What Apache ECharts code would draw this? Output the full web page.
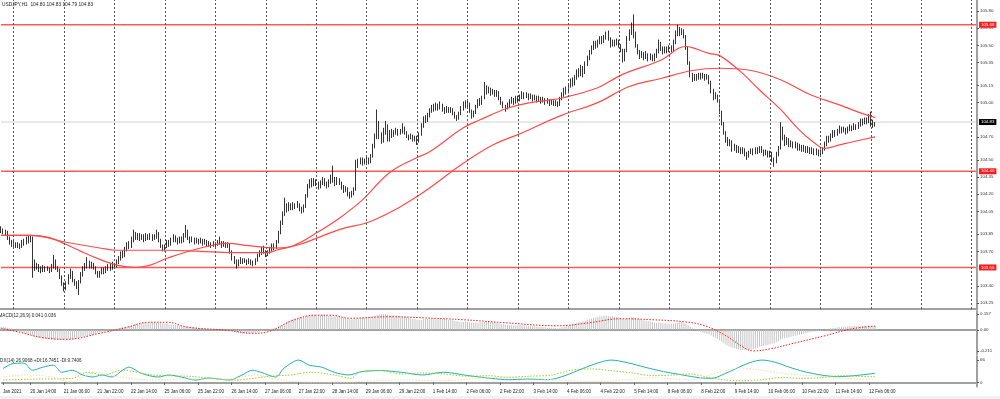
<!DOCTYPE html>
<html>
<head>
<meta charset="utf-8">
<title>USDJPY,H1</title>
<script src="https://cdn.jsdelivr.net/npm/echarts@6/dist/echarts.min.js"></script>
<style>
html, body { margin: 0; padding: 0; background: #fff; }
#chart { width: 1000px; height: 399px; }
</style>
</head>
<body>
<div id="chart"></div>
<script>
"use strict";

// H1 candles per trading day, each bar [open, close, low, high]
var jan20 = [[103.90,103.88,103.86,103.92],[103.88,103.86,103.85,103.90],[103.86,103.87,103.84,103.89],[103.87,103.82,103.80,103.88],[103.82,103.78,103.76,103.83],[103.78,103.76,103.74,103.80],[103.76,103.77,103.74,103.79],[103.77,103.75,103.73,103.78],[103.75,103.76,103.73,103.78],[103.76,103.74,103.72,103.77],[103.74,103.78,103.73,103.80],[103.78,103.77,103.75,103.81],[103.77,103.81,103.76,103.83],[103.81,103.79,103.77,103.84],[103.79,103.82,103.78,103.84],[103.82,103.60,103.47,103.83],[103.60,103.56,103.53,103.63],[103.56,103.58,103.54,103.60],[103.58,103.55,103.52,103.59],[103.55,103.53,103.51,103.57],[103.53,103.56,103.52,103.58],[103.56,103.54,103.52,103.57],[103.54,103.55,103.53,103.57]];
var jan21 = [[103.55,103.53,103.51,103.56],[103.53,103.57,103.52,103.59],[103.57,103.62,103.55,103.67],[103.62,103.56,103.54,103.63],[103.56,103.54,103.52,103.57],[103.54,103.48,103.46,103.55],[103.48,103.42,103.40,103.49],[103.42,103.38,103.35,103.43],[103.38,103.42,103.36,103.44],[103.42,103.48,103.41,103.50],[103.48,103.52,103.46,103.55],[103.52,103.45,103.43,103.53],[103.45,103.42,103.40,103.46],[103.42,103.39,103.37,103.44],[103.39,103.43,103.32,103.45],[103.43,103.50,103.42,103.52],[103.50,103.55,103.48,103.57],[103.55,103.58,103.53,103.60],[103.58,103.60,103.55,103.65],[103.60,103.57,103.55,103.62],[103.57,103.59,103.55,103.61],[103.59,103.56,103.54,103.60],[103.56,103.52,103.50,103.57],[103.52,103.49,103.47,103.53]];
var jan22 = [[103.49,103.51,103.47,103.53],[103.51,103.54,103.50,103.56],[103.54,103.52,103.50,103.56],[103.52,103.55,103.51,103.57],[103.55,103.57,103.53,103.59],[103.57,103.55,103.53,103.60],[103.55,103.58,103.54,103.61],[103.58,103.57,103.55,103.60],[103.57,103.61,103.56,103.63],[103.61,103.64,103.59,103.66],[103.64,103.68,103.62,103.70],[103.68,103.66,103.64,103.71],[103.66,103.72,103.65,103.74],[103.72,103.76,103.70,103.78],[103.76,103.74,103.72,103.79],[103.74,103.80,103.73,103.83],[103.80,103.85,103.78,103.89],[103.85,103.82,103.80,103.87],[103.82,103.84,103.80,103.86],[103.84,103.81,103.79,103.86],[103.81,103.83,103.80,103.85],[103.83,103.80,103.78,103.85],[103.80,103.84,103.79,103.86],[103.84,103.82,103.80,103.85]];
var jan25 = [[103.82,103.84,103.80,103.86],[103.84,103.81,103.79,103.85],[103.81,103.83,103.80,103.85],[103.83,103.86,103.81,103.89],[103.86,103.80,103.78,103.87],[103.80,103.75,103.73,103.81],[103.75,103.72,103.70,103.76],[103.72,103.74,103.70,103.76],[103.74,103.78,103.73,103.80],[103.78,103.76,103.74,103.80],[103.76,103.80,103.75,103.82],[103.80,103.83,103.78,103.85],[103.83,103.80,103.78,103.84],[103.80,103.78,103.76,103.82],[103.78,103.81,103.77,103.83],[103.81,103.79,103.77,103.83],[103.79,103.84,103.78,103.86],[103.84,103.88,103.82,103.93],[103.88,103.82,103.80,103.89],[103.82,103.79,103.77,103.83],[103.79,103.81,103.78,103.83],[103.81,103.78,103.76,103.82],[103.78,103.80,103.77,103.82],[103.80,103.78,103.76,103.81]];
var jan26 = [[103.78,103.80,103.77,103.82],[103.80,103.77,103.75,103.81],[103.77,103.79,103.76,103.81],[103.79,103.76,103.74,103.80],[103.76,103.77,103.74,103.79],[103.77,103.75,103.73,103.78],[103.75,103.77,103.74,103.79],[103.77,103.76,103.74,103.78],[103.76,103.79,103.75,103.80],[103.79,103.78,103.76,103.83],[103.78,103.75,103.73,103.79],[103.75,103.77,103.74,103.79],[103.77,103.75,103.73,103.78],[103.75,103.76,103.73,103.78],[103.76,103.70,103.68,103.77],[103.70,103.64,103.62,103.71],[103.64,103.61,103.59,103.66],[103.61,103.58,103.55,103.63],[103.58,103.61,103.57,103.63],[103.61,103.63,103.59,103.65],[103.63,103.61,103.59,103.64],[103.61,103.62,103.60,103.64],[103.62,103.60,103.58,103.63],[103.60,103.62,103.59,103.64]];
var jan27 = [[103.62,103.60,103.58,103.63],[103.60,103.59,103.57,103.62],[103.59,103.62,103.58,103.64],[103.62,103.66,103.61,103.68],[103.66,103.69,103.65,103.71],[103.69,103.72,103.67,103.74],[103.72,103.70,103.68,103.75],[103.70,103.67,103.65,103.71],[103.67,103.69,103.66,103.71],[103.69,103.72,103.68,103.74],[103.72,103.75,103.70,103.77],[103.75,103.73,103.71,103.77],[103.73,103.78,103.72,103.80],[103.78,103.86,103.77,103.88],[103.86,103.95,103.85,103.97],[103.95,104.03,103.93,104.05],[104.03,104.10,104.01,104.17],[104.10,104.07,104.04,104.12],[104.07,104.10,104.05,104.13],[104.10,104.08,104.06,104.12],[104.08,104.11,104.06,104.13],[104.11,104.09,104.07,104.12],[104.09,104.11,104.08,104.14],[104.11,104.07,104.05,104.12]];
var jan28 = [[104.07,104.05,104.03,104.09],[104.05,104.09,104.04,104.11],[104.09,104.18,104.08,104.20],[104.18,104.27,104.17,104.29],[104.27,104.31,104.25,104.33],[104.31,104.28,104.26,104.34],[104.28,104.32,104.27,104.34],[104.32,104.29,104.27,104.33],[104.29,104.26,104.24,104.31],[104.26,104.30,104.25,104.32],[104.30,104.33,104.28,104.35],[104.33,104.29,104.27,104.34],[104.29,104.27,104.25,104.31],[104.27,104.31,104.26,104.33],[104.31,104.34,104.29,104.37],[104.34,104.32,104.30,104.45],[104.32,104.29,104.27,104.35],[104.29,104.33,104.28,104.35],[104.33,104.30,104.28,104.34],[104.30,104.26,104.24,104.31],[104.26,104.23,104.21,104.28],[104.23,104.25,104.22,104.27],[104.25,104.20,104.18,104.26],[104.20,104.18,104.16,104.22]];
var jan29 = [[104.18,104.21,104.17,104.23],[104.21,104.24,104.19,104.26],[104.24,104.45,104.23,104.50],[104.45,104.48,104.43,104.51],[104.48,104.50,104.46,104.52],[104.50,104.47,104.45,104.52],[104.47,104.49,104.46,104.51],[104.49,104.51,104.47,104.53],[104.51,104.48,104.46,104.52],[104.48,104.53,104.47,104.55],[104.53,104.62,104.52,104.64],[104.62,104.70,104.60,104.73],[104.70,104.82,104.68,104.94],[104.82,104.72,104.68,104.84],[104.72,104.66,104.64,104.74],[104.66,104.74,104.65,104.78],[104.74,104.80,104.72,104.84],[104.80,104.70,104.66,104.81],[104.70,104.74,104.66,104.76],[104.74,104.71,104.69,104.77],[104.71,104.74,104.70,104.76],[104.74,104.76,104.72,104.78],[104.76,104.73,104.71,104.77],[104.73,104.75,104.72,104.77]];
var feb01 = [[104.75,104.78,104.73,104.82],[104.78,104.74,104.72,104.79],[104.74,104.71,104.69,104.75],[104.71,104.69,104.67,104.72],[104.69,104.71,104.68,104.73],[104.71,104.68,104.66,104.72],[104.68,104.70,104.66,104.71],[104.70,104.66,104.63,104.71],[104.66,104.72,104.65,104.74],[104.72,104.80,104.71,104.82],[104.80,104.86,104.78,104.88],[104.86,104.84,104.82,104.89],[104.84,104.89,104.83,104.91],[104.89,104.93,104.87,104.95],[104.93,104.96,104.91,104.98],[104.96,104.94,104.92,104.99],[104.94,104.97,104.93,105.00],[104.97,104.95,104.93,104.99],[104.95,104.98,104.94,105.01],[104.98,104.94,104.92,104.99],[104.94,104.92,104.90,104.96],[104.92,104.95,104.91,104.97],[104.95,104.93,104.91,104.96],[104.93,104.94,104.91,104.96]];
var feb02 = [[104.94,104.91,104.89,104.95],[104.91,104.88,104.86,104.92],[104.88,104.86,104.84,104.89],[104.86,104.90,104.85,104.92],[104.90,104.95,104.89,104.97],[104.95,104.99,104.93,105.01],[104.99,104.97,104.95,105.02],[104.97,104.99,104.96,105.02],[104.99,104.93,104.91,105.00],[104.93,104.88,104.86,104.94],[104.88,104.91,104.87,104.93],[104.91,104.96,104.90,104.98],[104.96,105.01,104.95,105.03],[105.01,104.99,104.97,105.04],[104.99,105.04,104.98,105.06],[105.04,105.12,105.03,105.18],[105.12,105.10,105.07,105.15],[105.10,105.12,105.08,105.14],[105.12,105.08,105.06,105.13],[105.08,105.10,105.07,105.12],[105.10,105.07,105.05,105.11],[105.07,105.09,105.05,105.11],[105.09,105.04,105.02,105.10],[105.04,105.00,104.98,105.05]];
var feb03 = [[105.00,104.97,104.95,105.01],[104.97,104.95,104.92,104.98],[104.95,104.98,104.94,105.00],[104.98,105.01,104.96,105.03],[105.01,105.03,104.99,105.05],[105.03,105.00,104.98,105.04],[105.00,105.04,104.99,105.06],[105.04,105.02,105.00,105.06],[105.02,105.05,105.01,105.07],[105.05,105.08,105.03,105.10],[105.08,105.05,105.03,105.09],[105.05,105.07,105.04,105.09],[105.07,105.04,105.02,105.08],[105.04,105.06,105.03,105.08],[105.06,105.03,105.01,105.07],[105.03,105.05,105.02,105.07],[105.05,105.02,105.00,105.06],[105.02,105.04,105.01,105.06],[105.04,105.01,104.99,105.05],[105.01,105.03,105.00,105.05],[105.03,105.00,104.98,105.04],[105.00,105.02,104.99,105.04],[105.02,104.99,104.97,105.03],[104.99,105.01,104.98,105.03]];
var feb04 = [[105.01,104.99,104.97,105.02],[104.99,105.00,104.97,105.02],[105.00,104.98,104.96,105.01],[104.98,105.03,104.97,105.05],[105.03,105.07,105.02,105.09],[105.07,105.11,105.05,105.13],[105.11,105.09,105.07,105.14],[105.09,105.15,105.08,105.17],[105.15,105.19,105.13,105.21],[105.19,105.16,105.14,105.22],[105.16,105.22,105.15,105.24],[105.22,105.27,105.20,105.29],[105.27,105.24,105.22,105.30],[105.24,105.30,105.23,105.33],[105.30,105.26,105.22,105.32],[105.26,105.34,105.25,105.36],[105.34,105.39,105.32,105.41],[105.39,105.44,105.37,105.46],[105.44,105.48,105.42,105.50],[105.48,105.52,105.46,105.54],[105.52,105.49,105.47,105.54],[105.49,105.53,105.48,105.55],[105.53,105.56,105.51,105.58],[105.56,105.53,105.51,105.58]];
var feb05 = [[105.53,105.57,105.52,105.59],[105.57,105.60,105.55,105.62],[105.60,105.56,105.54,105.63],[105.56,105.50,105.48,105.57],[105.50,105.53,105.49,105.55],[105.53,105.51,105.49,105.55],[105.51,105.54,105.50,105.56],[105.54,105.50,105.48,105.55],[105.50,105.46,105.44,105.51],[105.46,105.38,105.35,105.47],[105.38,105.45,105.36,105.47],[105.45,105.56,105.44,105.58],[105.56,105.62,105.54,105.64],[105.62,105.66,105.59,105.70],[105.66,105.60,105.56,105.77],[105.60,105.50,105.48,105.62],[105.50,105.44,105.42,105.51],[105.44,105.41,105.38,105.46],[105.41,105.43,105.39,105.45],[105.43,105.40,105.37,105.44],[105.40,105.42,105.38,105.45],[105.42,105.39,105.36,105.43],[105.39,105.41,105.37,105.43],[105.41,105.38,105.36,105.42]];
var feb08 = [[105.38,105.41,105.36,105.43],[105.41,105.44,105.39,105.47],[105.44,105.50,105.43,105.55],[105.50,105.47,105.45,105.53],[105.47,105.44,105.42,105.49],[105.44,105.47,105.43,105.49],[105.47,105.45,105.43,105.49],[105.45,105.48,105.44,105.50],[105.48,105.46,105.44,105.50],[105.46,105.52,105.45,105.55],[105.52,105.60,105.51,105.63],[105.60,105.64,105.58,105.68],[105.64,105.61,105.58,105.66],[105.61,105.63,105.59,105.65],[105.63,105.58,105.56,105.64],[105.58,105.48,105.46,105.59],[105.48,105.35,105.33,105.49],[105.35,105.24,105.22,105.36],[105.24,105.21,105.18,105.26],[105.21,105.23,105.19,105.25],[105.23,105.21,105.19,105.25],[105.21,105.24,105.20,105.26],[105.24,105.22,105.20,105.26],[105.22,105.24,105.21,105.26]];
var feb09 = [[105.24,105.21,105.19,105.25],[105.21,105.23,105.20,105.25],[105.23,105.18,105.16,105.24],[105.18,105.10,105.08,105.19],[105.10,105.05,105.02,105.12],[105.05,105.06,105.03,105.09],[105.06,105.02,105.00,105.07],[105.02,104.92,104.90,105.03],[104.92,104.82,104.80,104.93],[104.82,104.74,104.72,104.83],[104.74,104.68,104.65,104.75],[104.68,104.64,104.62,104.70],[104.64,104.66,104.62,104.68],[104.66,104.60,104.57,104.67],[104.60,104.62,104.58,104.64],[104.62,104.58,104.56,104.63],[104.58,104.60,104.56,104.62],[104.60,104.57,104.55,104.61],[104.57,104.59,104.55,104.61],[104.59,104.56,104.53,104.60],[104.56,104.53,104.50,104.57],[104.53,104.56,104.52,104.58],[104.56,104.58,104.55,104.60],[104.58,104.56,104.54,104.60]];
var feb10 = [[104.56,104.59,104.55,104.61],[104.59,104.57,104.55,104.61],[104.57,104.60,104.56,104.62],[104.60,104.58,104.56,104.62],[104.58,104.55,104.53,104.59],[104.55,104.57,104.54,104.59],[104.57,104.54,104.52,104.58],[104.54,104.56,104.52,104.58],[104.56,104.50,104.48,104.57],[104.50,104.48,104.44,104.52],[104.48,104.55,104.47,104.57],[104.55,104.60,104.53,104.62],[104.60,104.76,104.59,104.83],[104.76,104.70,104.67,104.79],[104.70,104.65,104.62,104.72],[104.65,104.68,104.63,104.70],[104.68,104.63,104.61,104.69],[104.63,104.65,104.61,104.67],[104.65,104.62,104.60,104.66],[104.62,104.64,104.60,104.66],[104.64,104.60,104.58,104.65],[104.60,104.62,104.58,104.64],[104.62,104.59,104.57,104.63],[104.59,104.61,104.57,104.63]];
var feb11 = [[104.61,104.58,104.56,104.62],[104.58,104.60,104.56,104.62],[104.60,104.57,104.55,104.61],[104.57,104.59,104.55,104.61],[104.59,104.56,104.54,104.60],[104.56,104.58,104.54,104.60],[104.58,104.55,104.53,104.59],[104.55,104.57,104.54,104.59],[104.57,104.59,104.55,104.61],[104.59,104.64,104.58,104.66],[104.64,104.69,104.62,104.71],[104.69,104.67,104.65,104.71],[104.67,104.71,104.66,104.73],[104.71,104.74,104.69,104.76],[104.74,104.72,104.70,104.76],[104.72,104.75,104.71,104.77],[104.75,104.78,104.73,104.80],[104.78,104.75,104.73,104.79],[104.75,104.77,104.74,104.79],[104.77,104.74,104.72,104.78],[104.74,104.77,104.73,104.79],[104.77,104.79,104.75,104.81],[104.79,104.77,104.75,104.80],[104.77,104.80,104.76,104.82]];
var feb12 = [[104.80,104.78,104.76,104.81],[104.78,104.81,104.77,104.83],[104.81,104.84,104.79,104.86],[104.84,104.82,104.80,104.86],[104.82,104.85,104.81,104.87],[104.85,104.83,104.81,104.87],[104.83,104.88,104.82,104.90],[104.88,104.84,104.79,104.92],[104.84,104.80,104.78,104.85],[104.80,104.83,104.79,104.83]];

var dayNames = ['20 Jan', '21 Jan', '22 Jan', '25 Jan', '26 Jan', '27 Jan', '28 Jan', '29 Jan', '1 Feb', '2 Feb',
    '3 Feb', '4 Feb', '5 Feb', '8 Feb', '9 Feb', '10 Feb', '11 Feb', '12 Feb'];
var dayBars = [jan20, jan21, jan22, jan25, jan26, jan27, jan28, jan29, feb01, feb02,
    feb03, feb04, feb05, feb08, feb09, feb10, feb11, feb12];
var firstHour = 1;      // first visible bar is 20 Jan 01:00
var emptyBars = 48;     // chart shift on the right

// moving averages, read as [bar index, price]
var maFast = [[0,103.84],[14,103.84],[23,103.82],[31,103.76],[38,103.70],[47,103.63],[55,103.58],[64,103.56],[71,103.58],[79,103.64],[95,103.73],[108,103.77],[118,103.75],[131,103.73],[139,103.75],[150,103.86],[161,103.99],[172,104.15],[185,104.39],[198,104.52],[204,104.57],[220,104.78],[228,104.85],[241,104.95],[252,105.00],[260,105.02],[267,105.04],[284,105.13],[293,105.22],[299,105.27],[314,105.37],[326,105.49],[329,105.48],[337,105.43],[342,105.41],[352,105.27],[361,105.11],[371,104.94],[380,104.76],[387,104.65],[392,104.60],[399,104.63],[406,104.66],[416,104.70]];
var maSlow = [[0,103.84],[14,103.84],[31,103.78],[47,103.73],[55,103.71],[79,103.71],[95,103.70],[110,103.69],[127,103.69],[131,103.71],[142,103.76],[161,103.89],[177,103.97],[198,104.18],[220,104.47],[234,104.63],[246,104.72],[267,104.89],[284,105.00],[299,105.14],[314,105.21],[329,105.28],[342,105.30],[357,105.28],[371,105.20],[385,105.07],[399,104.98],[409,104.91],[416,104.87]];

// MACD(12,26,9): histogram per bar and signal as [bar index, value]
var macdHist = [0.03,0.03,0.025,0.02,0.015,0.01,0.0,-0.005,-0.01,-0.02,
    -0.03,-0.035,-0.04,-0.045,-0.05,-0.06,-0.07,-0.075,-0.08,-0.085,
    -0.09,-0.09,-0.095,-0.095,-0.1,-0.1,-0.1,-0.1,-0.1,-0.1,-0.1,-0.1,-0.1,-0.095,-0.095,-0.09,
    -0.085,-0.08,-0.075,-0.07,-0.065,-0.06,-0.055,-0.05,-0.045,-0.04,
    -0.035,-0.03,-0.025,-0.02,-0.015,-0.01,-0.005,0,0.005,0.01,0.015,0.02,
    0.025,0.03,0.035,0.04,0.045,0.05,0.055,0.06,0.065,
    0.065,0.07,0.07,0.075,0.075,0.075,0.07,0.07,0.07,0.065,0.065,0.06,0.06,0.055,
    0.05,0.05,0.045,0.045,0.04,0.04,0.04,0.04,0.035,0.03,
    0.03,0.025,0.025,0.02,0.02,0.015,0.015,0.01,0.01,0.005,0.005,0,0,0,0,-0.005,-0.005,-0.01,
    -0.015,-0.02,-0.025,-0.03,-0.035,-0.035,-0.04,-0.04,-0.04,-0.04,-0.035,-0.035,-0.03,-0.025,-0.02,
    -0.015,-0.01,-0.005,0,0.005,0.01,0.015,0.02,0.03,0.04,
    0.05,0.065,0.08,0.09,0.1,0.11,0.115,0.12,0.125,
    0.13,0.13,0.135,0.14,0.145,0.15,0.15,0.15,0.15,0.15,0.15,0.145,0.145,0.14,0.14,
    0.135,0.135,0.13,0.13,0.125,0.12,0.115,0.11,0.105,
    0.105,0.105,0.11,0.115,0.12,0.125,0.125,0.13,0.13,0.13,0.135,0.14,0.15,0.155,0.155,0.155,0.155,0.15,0.15,0.145,0.145,0.14,0.14,0.135,
    0.13,0.13,0.125,0.12,0.115,0.11,0.105,0.1,0.1,0.1,0.105,0.11,0.11,0.115,0.115,0.115,0.115,0.115,0.115,0.11,0.11,0.105,0.1,0.1,
    0.095,0.09,0.085,0.08,0.08,0.08,0.08,0.08,0.075,0.07,0.07,0.07,0.07,0.075,0.075,0.08,0.08,0.08,0.08,0.075,0.075,0.07,0.065,0.06,
    0.055,0.05,0.05,0.045,0.045,0.045,0.045,0.045,0.045,0.045,0.045,0.04,0.04,0.04,0.035,0.035,0.03,0.03,0.03,0.025,0.025,0.02,0.02,0.02,
    0.02,0.02,0.015,0.02,0.025,0.03,0.035,0.04,0.05,0.055,0.06,0.07,0.075,0.08,0.085,0.09,0.1,0.105,0.11,0.12,0.125,0.13,0.135,0.135,
    0.14,0.14,0.14,0.135,0.135,0.13,0.13,0.125,0.12,0.11,0.11,0.115,0.12,0.125,0.125,0.12,0.11,0.105,0.1,0.095,0.09,0.085,0.08,0.075,
    0.07,0.07,0.07,0.07,0.065,0.065,0.06,0.06,0.06,0.06,0.065,0.07,0.075,0.075,0.07,0.06,0.045,0.03,0.015,0.005,-0.005,-0.015,-0.02,-0.03,
    -0.035,-0.04,-0.045,-0.055,-0.07,-0.08,-0.09,-0.105,-0.12,-0.135,-0.15,-0.16,-0.17,-0.18,-0.185,-0.19,-0.195,-0.2,-0.2,-0.2,-0.2,-0.2,-0.195,-0.19,
    -0.185,-0.18,-0.17,-0.165,-0.16,-0.155,-0.15,-0.145,-0.14,-0.135,-0.125,-0.115,-0.1,-0.09,-0.085,-0.08,-0.075,-0.07,-0.065,-0.06,-0.055,-0.05,-0.045,-0.04,
    -0.035,-0.03,-0.025,-0.02,-0.02,-0.015,-0.01,-0.01,-0.005,0,0.005,0.01,0.015,0.02,0.02,0.025,0.025,0.03,0.03,0.03,0.035,0.035,0.035,0.035,
    0.035,0.035,0.035,0.04,0.04,0.04,0.04,0.04,0.041,0.041];
var macdSignal = [[0,0.015],[9,-0.025],[19,-0.075],[31,-0.095],[47,-0.035],[60,0.025],[70,0.075],[79,0.075],[89,0.025],[108,-0.005],[120,-0.035],[127,-0.02],[139,0.095],[150,0.145],[157,0.145],[166,0.115],[185,0.13],[200,0.12],[220,0.1],[240,0.07],[265,0.04],[280,0.07],[295,0.11],[310,0.1],[325,0.08],[335,0.04],[345,-0.06],[353,-0.17],[358,-0.21],[366,-0.19],[378,-0.13],[392,-0.06],[405,0.01],[416,0.036]];

// ADX(14) lines as [bar index, value]
var adxLine = [[0,41],[5,56],[10,57],[14,36],[19,45],[24,51],[28,30],[33,36],[38,22],[43,16],[47,22],[52,16],[57,36],[60,45],[66,27],[74,16],[79,22],[85,16],[92,7],[98,13],[108,7],[114,22],[119,36],[123,30],[130,16],[134,42],[141,66],[146,51],[152,45],[158,30],[165,22],[171,32],[180,35],[190,30],[200,22],[210,30],[222,20],[233,12],[241,8],[250,10],[260,8],[268,20],[276,40],[284,58],[290,66],[298,58],[306,45],[315,32],[324,22],[332,14],[338,12],[344,25],[350,42],[356,58],[362,66],[368,60],[375,45],[382,32],[390,22],[398,17],[406,20],[416,27]];
var plusDi = [[0,7],[16,10],[33,12],[40,30],[48,22],[57,36],[71,22],[89,18],[111,7],[127,18],[137,22],[147,30],[158,22],[166,12],[170,30],[180,35],[190,25],[200,28],[210,25],[222,18],[232,20],[240,15],[250,18],[262,22],[270,35],[280,40],[290,35],[300,28],[310,20],[320,22],[328,25],[336,15],[344,8],[352,5],[362,8],[372,15],[380,12],[390,14],[400,20],[408,18],[416,16.7]];
var minusDi = [[0,16],[10,22],[24,16],[32,1],[44,30],[55,16],[71,7],[87,10],[108,10],[120,22],[134,5],[150,1],[166,1],[170,3],[180,5],[190,8],[200,6],[210,5],[222,10],[232,14],[240,16],[250,12],[262,8],[270,5],[280,3],[290,4],[300,10],[310,14],[320,10],[328,8],[336,20],[344,35],[352,42],[360,38],[370,28],[380,22],[390,18],[400,12],[408,10],[416,9.7]];

var levels = [105.68, 104.40, 103.56];
var lastPrice = 104.83;
var priceTicks = [105.80, 105.65, 105.50, 105.35, 105.15, 105.00, 104.70, 104.50, 104.35, 104.20, 104.05, 103.85, 103.70, 103.40, 103.25];
var macdTicks = [0.157, 0, -0.211];
var adxTicks = [66, 0];

// categories: one per hourly bar plus the empty shift
var categories = [];
var candles = [];
dayNames.forEach(function (name, d) {
    dayBars[d].forEach(function (bar, k) {
        var h = (d === 0 ? firstHour : 0) + k;
        categories.push(name + ' ' + (h < 10 ? '0' + h : h) + ':00');
        candles.push(bar);
    });
});
var barCount = candles.length;
for (var e = 0; e < emptyBars; e++) categories.push('');
var lastSlot = categories.length - 1;

function showTime(i) {
    return i === 0 || (i >= 13 && i < barCount && (i - 13) % 16 === 0);
}

var font = 'Liberation Sans, Arial, sans-serif';
var frame = '#a0a0a0';

// vertical dotted grid every 24 bars
var gridLines = [];
for (var g = 6; g < categories.length; g += 24) gridLines.push({ xAxis: g });

// horizontal price lines drawn across the whole panel, with a tag on the price scale
function priceLine(name, v, lineColor, lineWidth, tagColor) {
    return {
        name: name, type: 'line', xAxisIndex: 0, yAxisIndex: 0,
        data: [[0, v], [lastSlot, v]],
        showSymbol: false, silent: true, z: 1,
        lineStyle: { color: lineColor, width: lineWidth },
        endLabel: {
            show: true, distance: 3, color: '#fff', backgroundColor: tagColor,
            fontSize: 4.4, padding: [1, 2], fontFamily: font,
            formatter: function () { return v.toFixed(2); }
        }
    };
}

var chart = echarts.init(document.getElementById('chart'));

var series = [
    priceLine('last', lastPrice, '#d2d2d2', 1, '#000')
].concat(levels.map(function (v, i) {
    return priceLine('level' + i, v, '#ff5a5a', 1.6, '#ff1a1a');
})).concat([
    {
        name: 'USDJPY', type: 'candlestick', xAxisIndex: 0, yAxisIndex: 0,
        data: candles,
        barWidth: 1.3,
        itemStyle: { color: '#ffffff', color0: '#000000', borderColor: '#000', borderColor0: '#000', borderWidth: 0.8 },
        z: 3
    },
    {
        name: 'MA fast', type: 'line', xAxisIndex: 0, yAxisIndex: 0,
        data: maFast, smooth: 0.4, showSymbol: false,
        lineStyle: { color: '#ff4a4a', width: 1.2 },
        markLine: {
            silent: true,
            symbol: ['none', 'none'],
            lineStyle: { color: '#555', type: [2, 2], width: 1 },
            label: { show: false },
            data: gridLines
        },
        z: 4
    },
    {
        name: 'MA slow', type: 'line', xAxisIndex: 0, yAxisIndex: 0,
        data: maSlow, smooth: 0.4, showSymbol: false,
        lineStyle: { color: '#ff4a4a', width: 1.2 },
        z: 4
    },
    {
        name: 'MACD', type: 'bar', xAxisIndex: 1, yAxisIndex: 1,
        data: macdHist, barWidth: 1,
        itemStyle: { color: '#c4c4c4' }
    },
    {
        name: 'Signal', type: 'line', xAxisIndex: 1, yAxisIndex: 1,
        data: macdSignal, smooth: 0.4, showSymbol: false,
        lineStyle: { color: '#ff2020', width: 1, type: [1.5, 1.5] }
    },
    {
        name: 'ADX', type: 'line', xAxisIndex: 2, yAxisIndex: 2,
        data: adxLine, smooth: 0.3, showSymbol: false,
        lineStyle: { color: '#20b2aa', width: 1 }
    },
    {
        name: '+DI', type: 'line', xAxisIndex: 2, yAxisIndex: 2,
        data: plusDi, smooth: 0.3, showSymbol: false,
        lineStyle: { color: '#9acd32', width: 1, type: [1.5, 1.5] }
    },
    {
        name: '-DI', type: 'line', xAxisIndex: 2, yAxisIndex: 2,
        data: minusDi, smooth: 0.3, showSymbol: false,
        lineStyle: { color: '#f5deb3', width: 1, type: [1.5, 1.5] }
    }
]);

chart.setOption({
    animation: false,
    backgroundColor: '#fff',
    textStyle: { fontFamily: font },
    grid: [
        { left: 0, top: 0, width: 977, height: 309 },
        { left: 0, top: 311, width: 977, height: 43 },
        { left: 0, top: 356, width: 977, height: 30.5 }
    ],
    xAxis: [0, 1, 2].map(function (i) {
        return {
            type: 'category',
            gridIndex: i,
            data: categories,
            boundaryGap: true,
            axisLine: { show: true, lineStyle: { color: frame, width: 2 } },
            axisTick: {
                show: i === 2,
                alignWithLabel: true,
                interval: function (idx) { return showTime(idx); },
                length: 2.5,
                lineStyle: { color: '#666' }
            },
            axisLabel: {
                show: i === 2,
                interval: function (idx) { return showTime(idx); },
                formatter: function (v, idx) { return idx === 0 ? 'Jan 2021' : v; },
                align: 'left',
                margin: 2.5,
                fontSize: 4.5,
                color: '#222',
                hideOverlap: false
            },
            splitLine: { show: false }
        };
    }),
    yAxis: [
        {
            type: 'value', gridIndex: 0, position: 'right', min: 103.197, max: 105.896,
            axisLine: { show: true, lineStyle: { color: frame, width: 2 } },
            axisTick: { show: true, length: 2, customValues: priceTicks, lineStyle: { color: '#555' } },
            axisLabel: {
                customValues: priceTicks, fontSize: 4.4, color: '#333', margin: 3,
                formatter: function (v) { return v.toFixed(2); }
            },
            splitLine: { show: false }
        },
        {
            type: 'value', gridIndex: 1, position: 'right', min: -0.241, max: 0.187,
            axisLine: { show: true, lineStyle: { color: frame, width: 2 } },
            axisTick: { show: true, length: 2, customValues: macdTicks, lineStyle: { color: '#555' } },
            axisLabel: {
                customValues: macdTicks, fontSize: 4.4, color: '#333', margin: 3,
                formatter: function (v) { return v === 0 ? '0.00' : String(v); }
            },
            splitLine: { show: false }
        },
        {
            type: 'value', gridIndex: 2, position: 'right', min: -12, max: 78,
            axisLine: { show: true, lineStyle: { color: frame, width: 2 } },
            axisTick: { show: true, length: 2, customValues: adxTicks, lineStyle: { color: '#555' } },
            axisLabel: { customValues: adxTicks, fontSize: 4.4, color: '#333', margin: 3 },
            splitLine: { show: false }
        }
    ],
    series: series,
    graphic: [
        { type: 'rect', shape: { x: 0, y: 396, width: 1000, height: 3 }, style: { fill: '#eef2f6' }, silent: true },
        { type: 'text', x: 2, y: 2.5, style: { text: 'USDJPY,H1  104.80 104.83 104.79 104.83', font: '4.8px ' + font, fill: '#222' } },
        { type: 'text', x: -1.5, y: 313, style: { text: 'MACD(12,26,9) 0.041 0.036', font: '4.6px ' + font, fill: '#222' } },
        { type: 'text', x: -3, y: 358.5, style: { text: 'ADX(14) 26.9068 +DI:16.7451 -DI:9.7406', font: '4.6px ' + font, fill: '#222' } }
    ]
});
</script>
</body>
</html>
